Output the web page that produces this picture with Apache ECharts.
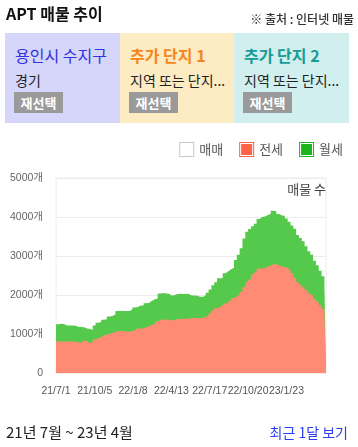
<!DOCTYPE html>
<html><head><meta charset="utf-8">
<script src="https://cdn.jsdelivr.net/npm/echarts@6/dist/echarts.min.js"></script>
<style>
html,body{margin:0;padding:0;background:#fff;width:358px;height:447px;overflow:hidden;font-family:"Noto Sans CJK KR","Noto Sans",sans-serif;}
#chart{position:absolute;left:0;top:0;width:358px;height:447px;}
.t{position:absolute;white-space:nowrap;z-index:2;}
.p{position:absolute;top:33px;height:90px;z-index:1;}
.btn{position:absolute;left:9px;top:59px;width:49px;height:21px;line-height:21px;background:#9a9a9a;color:#fff;font-weight:700;font-size:13px;text-align:center;}
.pt{position:absolute;left:10px;top:10px;font-size:16px;line-height:24px;white-space:nowrap;}
.ps{position:absolute;left:10px;top:37px;font-size:14px;line-height:20px;color:#222;white-space:nowrap;}
</style></head><body>
<div id="chart"></div>
<div class="t" style="left:6px;top:1px;font-size:16px;font-weight:700;line-height:24px;color:#111">APT 매물 추이</div>
<div class="t" style="right:4px;top:10px;font-size:12px;font-weight:500;line-height:18px;color:#333">※ 출처 : 인터넷 매물</div>
<div class="p" style="left:5px;width:115px;background:#d5d6fa">
  <div class="pt" style="color:#3333dd">용인시 수지구</div>
  <div class="ps">경기</div>
  <div class="btn">재선택</div>
</div>
<div class="p" style="left:120px;width:114px;background:#fdebc3">
  <div class="pt" style="color:#f5861c;font-weight:700">추가 단지 1</div>
  <div class="ps">지역 또는 단지...</div>
  <div class="btn">재선택</div>
</div>
<div class="p" style="left:234px;width:115px;background:#d1efee">
  <div class="pt" style="color:#169c96;font-weight:700">추가 단지 2</div>
  <div class="ps">지역 또는 단지...</div>
  <div class="btn">재선택</div>
</div>
<div class="t" style="left:6px;top:422px;font-size:15px;line-height:20px;color:#222">21년 7월 ~ 23년 4월</div>
<div class="t" style="right:10px;top:422px;font-size:14px;line-height:20px;color:#2b3fee">최근 1달 보기</div>
<script>
// weekly readings starting 21/7/1 (one value per 7 days), day axis runs to 23/5/1
const startDate = [2021, 6, 1];
const endDate = [2023, 4, 1];
const stepDays = 7;
const legendNames = ['매매', '전세', '월세'];
const tickLabels = ['21/7/1', '21/10/5', '22/1/8', '22/4/13', '22/7/17', '22/10/20', '23/1/23'];
const jeonse = [
  810, 810, 810, 810, 810, 810, 810, 780, 780, 830,
  820, 770, 790, 860, 890, 920, 966, 980, 1000, 1030,
  1045, 1075, 1080, 1075, 1060, 1060, 1070, 1100, 1140, 1140,
  1140, 1180, 1190, 1240, 1260, 1320, 1360, 1370, 1370, 1365,
  1350, 1355, 1385, 1385, 1390, 1390, 1400, 1410, 1410, 1410,
  1405, 1410, 1440, 1460, 1540, 1600, 1660, 1700, 1720, 1780,
  1790, 1850, 1920, 1960, 2010, 2080, 2200, 2330, 2400, 2520,
  2580, 2670, 2680, 2690, 2730, 2750, 2790, 2790, 2760, 2730,
  2720, 2690, 2640, 2560, 2450, 2330, 2260, 2200, 2130, 2060,
  2000, 1900, 1830, 1740, 1650, 1545
];
const wolse = [
  440, 450, 440, 410, 410, 405, 400, 400, 400, 340,
  320, 360, 320, 360, 400, 390, 400, 400, 450, 430,
  455, 515, 510, 515, 530, 530, 550, 580, 550, 590,
  590, 610, 610, 610, 630, 590, 680, 680, 670, 665,
  630, 645, 640, 645, 635, 640, 625, 580, 575, 570,
  550, 540, 560, 600, 600, 650, 670, 730, 710, 780,
  820, 810, 780, 940, 1020, 1120, 1250, 1290, 1290, 1240,
  1250, 1280, 1320, 1320, 1320, 1330, 1370, 1360, 1320, 1310,
  1310, 1270, 1240, 1220, 1250, 1210, 1200, 1180, 1120, 1060,
  1030, 980, 930, 880, 830, 770
];

const DAY = 86400000;
const t0 = new Date(startDate[0], startDate[1], startDate[2]);
function dayIndex(y, m, d) { return Math.round((new Date(y, m, d) - t0) / DAY); }
const lastDay = dayIndex(endDate[0], endDate[1], endDate[2]);
const days = jeonse.map((_, i) => stepDays * i);
function pairs(vals) {
  const d = vals.map((v, i) => [days[i], v]);
  d.push([lastDay, vals[vals.length - 1]]);
  return d;
}
// stacked top of 월세 = 전세 + 월세
const wolseTop = wolse.map((v, i) => v + jeonse[i]);
const tickDays = tickLabels.map(s => { const p = s.split('/').map(Number); return dayIndex(2000 + p[0], p[1] - 1, p[2]); });
function fmt(v) { const i = tickDays.indexOf(Math.round(v)); return i >= 0 ? tickLabels[i] : ''; }

const ring = 'path://M0 0H15V15H0Z M1 1V14H14V1Z';
const boxed = 'path://M0 0H15V15H0Z M1 1V14H14V1Z M2 2H13V13H2Z';
const axisFont = '"Liberation Sans", "Noto Sans CJK KR", sans-serif';

const chart = echarts.init(document.getElementById('chart'), null, { renderer: 'canvas' });
chart.setOption({
  animation: false,
  textStyle: { fontFamily: '"Noto Sans CJK KR", "Noto Sans", sans-serif' },
  grid: { left: 56, right: 32, top: 178, bottom: 74, show: true, borderColor: '#ececec', borderWidth: 1, containLabel: false },
  legend: {
    right: 10, top: 137, itemWidth: 15, itemHeight: 15, itemGap: 16,
    textStyle: { fontSize: 13, color: '#555' },
    itemStyle: { borderWidth: 0 },
    selectedMode: false,
    data: [
      { name: legendNames[0], icon: ring, itemStyle: { color: '#c6c8d0' } },
      { name: legendNames[1], icon: boxed },
      { name: legendNames[2], icon: boxed }
    ]
  },
  graphic: [{ type: 'text', right: 32, top: 183, style: { text: '매물 수', fontSize: 13, fill: '#444', fontFamily: '"Noto Sans CJK KR", sans-serif' } }],
  xAxis: {
    type: 'value', min: 0, max: lastDay,
    axisLine: { show: false }, axisTick: { show: false }, splitLine: { show: false },
    axisLabel: { customValues: tickDays, formatter: fmt, fontSize: 10.5, fontFamily: axisFont, color: '#555', margin: 13, hideOverlap: false }
  },
  yAxis: {
    type: 'value', min: 0, max: 5000, interval: 1000,
    axisLine: { show: false }, axisTick: { show: false },
    splitLine: { lineStyle: { color: '#ececec' } },
    axisLabel: { fontSize: 10.5, fontFamily: axisFont, color: '#666', margin: 13, formatter: v => v === 0 ? '0' : v + '개' }
  },
  series: [
    { name: legendNames[0], type: 'line', data: [], itemStyle: { color: '#c6c8d0' } },
    { name: legendNames[1], type: 'line', step: 'end', symbol: 'none', data: pairs(jeonse), z: 3,
      itemStyle: { color: '#ff6347' }, lineStyle: { width: 0, opacity: 0 }, areaStyle: { color: '#ff8b74', opacity: 1 } },
    { name: legendNames[2], type: 'line', step: 'end', symbol: 'none', data: pairs(wolseTop), z: 2,
      itemStyle: { color: '#1db41d' }, lineStyle: { width: 0, opacity: 0 }, areaStyle: { color: '#55c94b', opacity: 1 } }
  ]
});
</script>
</body></html>
